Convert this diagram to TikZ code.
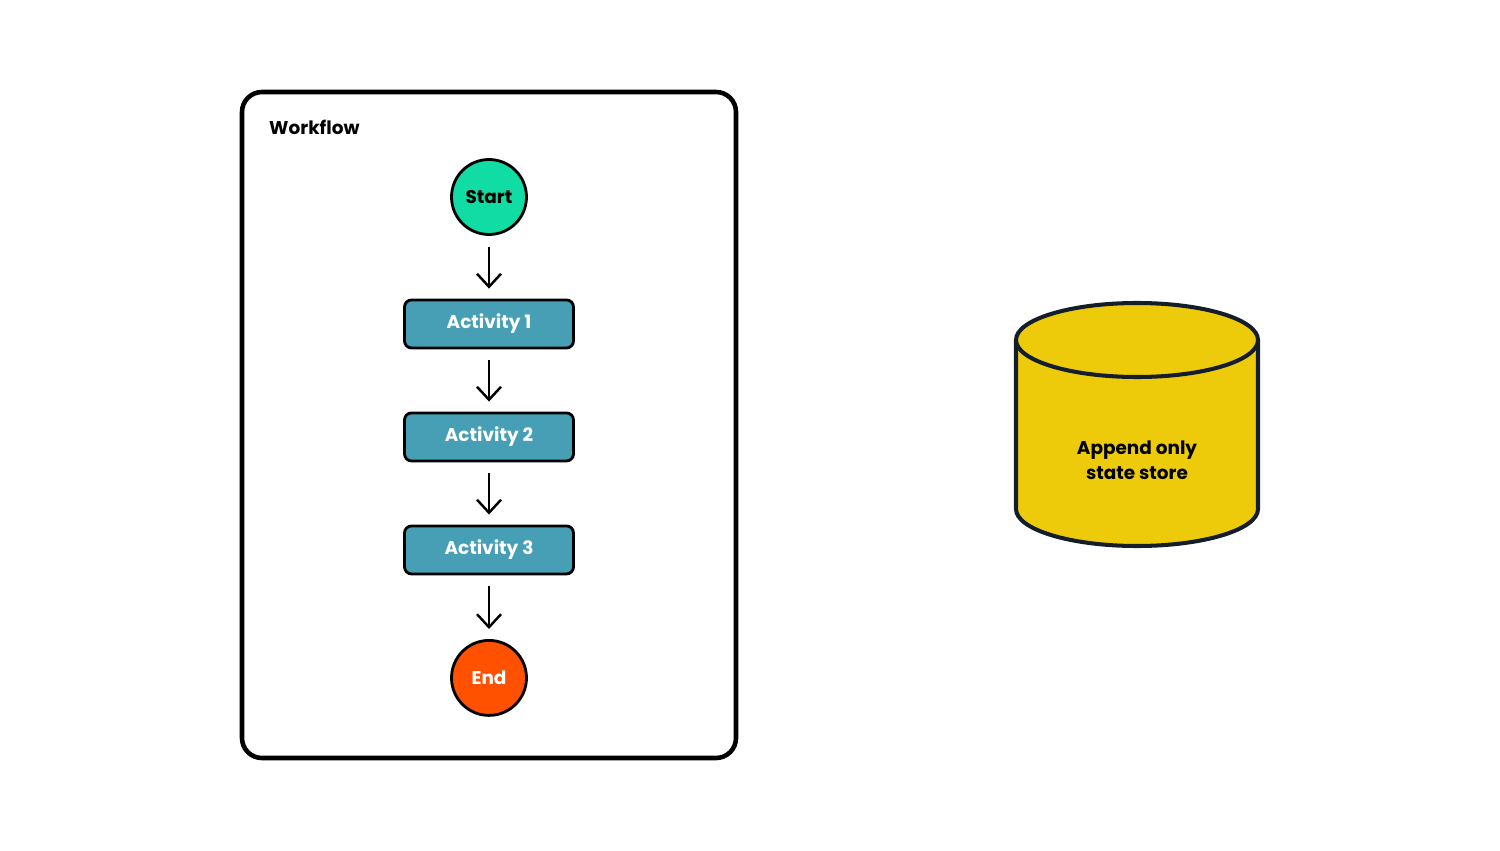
\documentclass[tikz,border=0pt]{standalone}
\usepackage{fontspec}
\setmainfont{Poppins}
\usepackage{tikz}
\usetikzlibrary{arrows.meta, positioning, calc}
\definecolor{startgreen}{HTML}{10DCA4}
\definecolor{actblue}{HTML}{479FB6}
\definecolor{endorange}{HTML}{FF5100}
\definecolor{storeyellow}{HTML}{EECB0A}
\definecolor{storeline}{HTML}{141E2B}

\begin{document}
\begin{tikzpicture}[x=0.02cm, y=0.02cm, >={Straight Barb[length=0.26cm, width=0.48cm]},
  every node/.style={font=\fontsize{10.5}{13}\selectfont\bfseries},
  terminal/.style={circle, draw, line width=1.6pt, minimum size=1.5cm, inner sep=0pt},
  activity/.style={rectangle, rounded corners=0.14cm, draw, line width=1.6pt, fill=actblue,
    text=white, minimum width=3.38cm, minimum height=0.96cm},
  flow/.style={->, line width=1.4pt, shorten <=0.22cm, shorten >=0.2cm}]
  \useasboundingbox (0,0) rectangle (1500,850);

  % Workflow frame
  \draw[line width=2.6pt, rounded corners=0.4cm] (242,92) rectangle (736,758);
  \node[anchor=west] (title) at (263,723) {Workflow};

  % Steps
  \begin{scope}[on grid]
    \node[terminal, fill=startgreen] (start) at (489,653) {Start};
    \node[activity, below=2.54cm of start] (act1) {Activity 1};
    \node[activity, below=2.26cm of act1] (act2) {Activity 2};
    \node[activity, below=2.26cm of act2] (act3) {Activity 3};
    \node[terminal, fill=endorange, text=white, below=2.56cm of act3] (end) {End};
  \end{scope}

  \draw[flow] (start) -- (act1);
  \draw[flow] (act1) -- (act2);
  \draw[flow] (act2) -- (act3);
  \draw[flow] (act3) -- (end);

  % State store
  \coordinate (dbtop) at (1137,510);
  \draw[storeline, line width=2.3pt, fill=storeyellow]
    ($(dbtop)+(-121,0)$) -- ++(0,-169)
    arc[start angle=180, end angle=360, x radius=121, y radius=37] -- ++(0,169);
  \draw[storeline, line width=2.3pt, fill=storeyellow] (dbtop) ellipse[x radius=121, y radius=37];
  \node[align=center, font=\fontsize{10.5}{14.2}\selectfont\bfseries] (store) at (1137,390) {Append only\\state store};
\end{tikzpicture}
\end{document}
